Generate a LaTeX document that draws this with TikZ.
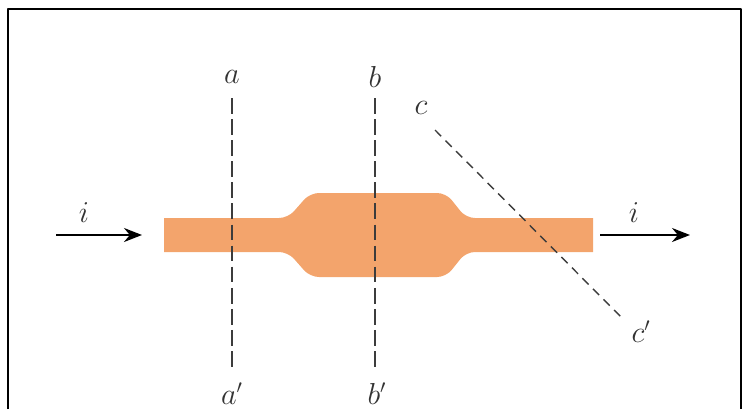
\documentclass[tikz,border=0pt]{standalone}
\usepackage{tikz}
\usetikzlibrary{arrows.meta}

\definecolor{wireorange}{RGB}{243,164,108}
\definecolor{cutgray}{RGB}{60,60,60}

\begin{document}
\begin{tikzpicture}[x=0.02cm,y=-0.02cm,>={Stealth[length=3.6mm,width=2.8mm]},line join=round,
  cutline/.style={cutgray,line width=0.8pt,dash pattern=on 9pt off 3pt},
  slantcut/.style={cutgray,line width=0.8pt,dash pattern=on 5pt off 3.5pt},
  lbl/.style={font=\fontsize{16}{18}\selectfont,inner sep=1pt,text=black!80},
  current/.style={->,line width=1.1pt}]
\useasboundingbox (0,0) rectangle (750,409);
% frame, cut off at the bottom
\draw[line width=1.2pt] (8,409) -- (8,9) -- (741,9) -- (741,409);
% the conductor
\fill[wireorange] (164,218) -- (280,218) [rounded corners=5pt] -- (288,218) -- (310,193) -- (446,193) -- (466,218) [sharp corners] -- (593,218) -- (593,252) -- (470,252) [rounded corners=5pt] -- (466,252) -- (446,277) -- (310,277) -- (288,252) [sharp corners] -- (164,252) -- cycle;
\coordinate (a1) at (232,98);
\coordinate (a2) at (232,371);
\coordinate (b1) at (375,98);
\coordinate (b2) at (375,371);
\coordinate (c1) at (435,130);
\coordinate (c2) at (622,318);
\draw[cutline] (a1) -- (a2);
\draw[cutline,line width=1pt] (b1) -- (b2);
\draw[slantcut] (c1) -- (c2);
\node[lbl] (la) at (232,77) {$a$};
\node[lbl] (la2) at (232,394) {$a'$};
\node[lbl] (lb) at (375,77) {$b$};
\node[lbl] (lb2) at (377,394) {$b'$};
\node[lbl] (lc) at (421,108) {$c$};
\node[lbl] (lc2) at (641,332) {$c'$};
% current in and out
\coordinate (inA) at (56,235);
\coordinate (inB) at (142,235);
\coordinate (outA) at (600,235);
\coordinate (outB) at (690,235);
\draw[current] (inA) -- (inB);
\draw[current] (outA) -- (outB);
\node[lbl] (iin) at (84,213) {$i$};
\node[lbl] (iout) at (634,213) {$i$};
\end{tikzpicture}
\end{document}
